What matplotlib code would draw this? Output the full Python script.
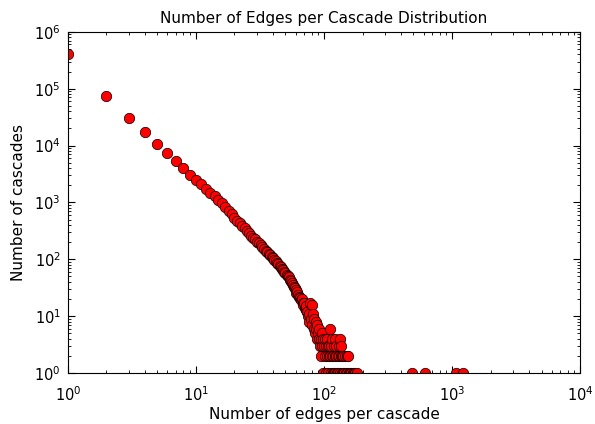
import numpy as np
import matplotlib.pyplot as plt

# edges per cascade -> how many cascades have that many edges
edges_head = list(range(1, 90))
counts_head = [410000, 74000, 30000, 17000, 10500, 7300, 5300, 4100, 3100, 2450,
               2080, 1720, 1470, 1280, 1110, 960, 820, 700, 620, 540,
               480, 430, 385, 350, 318, 290, 262, 240, 225, 205,
               190, 176, 165, 150, 142, 133, 124, 118, 110, 104,
               98, 92, 86, 83, 77, 73, 69, 64, 61, 58,
               54, 50, 48, 44, 41, 39, 36, 33, 31, 29,
               26, 27, 24, 22, 21, 19, 20, 17, 16, 17,
               14, 13, 15, 12, 10, 11, 8, 17, 9, 16,
               7, 11, 6, 9, 5, 8, 6, 4, 7]

edges_tail = [90, 91, 92, 93, 94, 95, 96, 97, 98, 99, 100, 101, 102, 103, 104,
              105, 106, 107, 108, 109, 110, 111, 112, 113, 114, 115, 116, 117,
              118, 119, 120, 121, 122, 123, 124, 125, 126, 128, 129, 130, 131,
              133, 134, 135, 136, 138, 139, 141, 142, 144, 146, 148, 150, 152,
              154, 157, 160, 163, 167, 171, 176, 181, 490, 613, 1072, 1210]
counts_tail = [5, 4, 6, 3, 4, 2, 5, 3, 4, 1, 3, 4, 2, 3, 1,
               4, 2, 3, 1, 2, 3, 6, 2, 1, 3, 2, 4, 1,
               2, 3, 1, 2, 4, 1, 2, 3, 1, 2, 1, 3, 2,
               1, 4, 2, 3, 1, 2, 1, 2, 1, 2, 1, 2, 1,
               2, 1, 1, 1, 1, 1, 1, 1, 1, 1, 1, 1]

x = np.array(edges_head + edges_tail)
y = np.array(counts_head + counts_tail)

fig = plt.figure(figsize=(5.95, 4.24), dpi=100)
ax = fig.add_axes([0.114, 0.12, 0.861, 0.805])

ax.plot(x, y, 'o', color='red', mec='k', mew=0.5, ms=7.5)
ax.set_xscale('log')
ax.set_yscale('log')
ax.set_xlim(1, 1e4)
ax.set_ylim(1, 1e6)

ax.tick_params(which='both', direction='in', top=True, right=True, labelsize=10.5)
ax.tick_params(which='major', length=5)
ax.tick_params(which='minor', length=2.5)
ax.tick_params(axis='x', which='major', pad=9)
ax.tick_params(axis='y', which='major', pad=5)

ax.set_title('Number of Edges per Cascade Distribution', fontsize=11)
ax.set_xlabel('Number of edges per cascade', fontsize=11, labelpad=2)
ax.set_ylabel('Number of cascades', fontsize=11, labelpad=6)

fig.savefig('out.png', dpi=100)
